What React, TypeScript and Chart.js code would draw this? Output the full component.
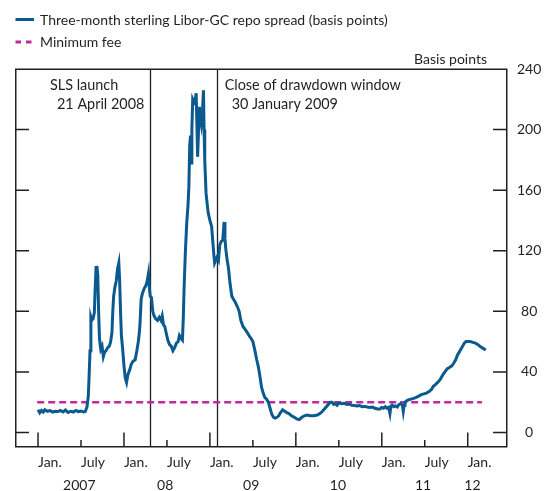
import React, { useEffect, useRef } from 'react';
import { Chart, registerables } from 'chart.js';

Chart.register(...registerables);

// ---- Data (decimal years / basis points) ----
const spreadDates = [
  2007.0, 2007.02, 2007.04, 2007.06, 2007.08, 2007.11, 2007.14, 2007.17, 2007.2, 2007.23,
  2007.26, 2007.29, 2007.32, 2007.35, 2007.38, 2007.41, 2007.44, 2007.47, 2007.5, 2007.53,
  2007.55, 2007.57, 2007.585, 2007.595, 2007.605, 2007.615, 2007.625, 2007.64, 2007.655, 2007.665,
  2007.675, 2007.685, 2007.695, 2007.705, 2007.715, 2007.73, 2007.745, 2007.76, 2007.775, 2007.79,
  2007.81, 2007.83, 2007.845, 2007.86, 2007.87, 2007.88, 2007.895, 2007.91, 2007.925, 2007.94,
  2007.95, 2007.96, 2007.97, 2007.985, 2008.0, 2008.015, 2008.03, 2008.045, 2008.065, 2008.085,
  2008.105, 2008.13, 2008.15, 2008.17, 2008.185, 2008.2, 2008.215, 2008.235, 2008.255, 2008.27,
  2008.285, 2008.295, 2008.305, 2008.32, 2008.335, 2008.35, 2008.37, 2008.39, 2008.41, 2008.43,
  2008.445, 2008.46, 2008.475, 2008.49, 2008.51, 2008.53, 2008.55, 2008.57, 2008.59, 2008.61,
  2008.63, 2008.645, 2008.665, 2008.68, 2008.69, 2008.7, 2008.715, 2008.73, 2008.745, 2008.755,
  2008.765, 2008.775, 2008.78, 2008.79, 2008.8, 2008.815, 2008.83, 2008.84, 2008.85, 2008.857,
  2008.868, 2008.878, 2008.89, 2008.9, 2008.915, 2008.925, 2008.932, 2008.94, 2008.955, 2008.97,
  2008.98, 2009.0, 2009.02, 2009.035, 2009.045, 2009.055, 2009.07, 2009.085, 2009.1, 2009.115,
  2009.13, 2009.15, 2009.165, 2009.175, 2009.185, 2009.2, 2009.215, 2009.235, 2009.255, 2009.275,
  2009.295, 2009.32, 2009.34, 2009.36, 2009.385, 2009.41, 2009.435, 2009.455, 2009.48, 2009.5,
  2009.52, 2009.545, 2009.565, 2009.585, 2009.6, 2009.62, 2009.64, 2009.66, 2009.68, 2009.7,
  2009.72, 2009.74, 2009.76, 2009.78, 2009.8, 2009.82, 2009.845, 2009.87, 2009.895, 2009.92,
  2009.95, 2009.98, 2010.01, 2010.04, 2010.07, 2010.1, 2010.13, 2010.17, 2010.21, 2010.25,
  2010.28, 2010.31, 2010.34, 2010.37, 2010.4, 2010.42, 2010.44, 2010.46, 2010.48, 2010.5,
  2010.53, 2010.56, 2010.59, 2010.62, 2010.65, 2010.68, 2010.71, 2010.74, 2010.77, 2010.8,
  2010.83, 2010.86, 2010.89, 2010.92, 2010.95, 2010.98, 2011.0, 2011.02, 2011.04, 2011.06,
  2011.08, 2011.095, 2011.105, 2011.12, 2011.14, 2011.16, 2011.18, 2011.2, 2011.22, 2011.24,
  2011.25, 2011.26, 2011.27, 2011.29, 2011.31, 2011.34, 2011.37, 2011.4, 2011.43, 2011.46,
  2011.49, 2011.52, 2011.55, 2011.58, 2011.6, 2011.62, 2011.65, 2011.68, 2011.71, 2011.735,
  2011.76, 2011.79, 2011.815, 2011.84, 2011.86, 2011.88, 2011.9, 2011.92, 2011.94, 2011.96,
  2011.98, 2012.0, 2012.03, 2012.06, 2012.09, 2012.12, 2012.15, 2012.18, 2012.21,
];
const spreadBps = [
  15, 13, 14.5, 13.5, 15, 14, 14.5, 13.5, 14, 13.8,
  14.5, 13.5, 14.8, 13.2, 14, 13.5, 14.5, 13.8, 14.2, 13.5,
  13.8, 17, 24, 38, 54, 76, 74, 75, 79, 95,
  109, 110, 104, 80, 62, 55, 57, 50, 53, 54,
  56, 57, 60, 66, 80, 90, 96, 100, 108, 112,
  100, 80, 64, 55, 44, 36, 33, 38, 41, 45,
  47, 48, 54, 61, 70, 88, 92, 95, 97, 100,
  105, 96, 90, 89, 80, 77, 75, 74, 76, 74,
  77, 71, 70, 66, 61, 58, 57, 54, 56, 59,
  60, 64, 62, 61, 75, 96, 120, 138, 150, 162,
  190, 196, 178, 200, 220, 218, 220, 224, 200, 182,
  200, 215, 208, 204, 214, 226, 200, 180, 158, 150,
  145, 140, 136, 125, 118, 112, 114, 116, 114, 124,
  126, 127, 139, 128, 121, 114, 109, 98, 90, 88,
  86, 83, 80, 74, 70, 68, 66, 64, 62, 60,
  55, 48, 43, 36, 30, 26, 23, 22, 20, 16,
  12, 10, 9.5, 10, 11, 13, 15, 14, 13, 12.5,
  11, 10, 9, 8.5, 10, 11, 11.5, 11, 11, 11.5,
  12.5, 14, 16, 18, 20, 20, 18.5, 19, 18, 19.5,
  19, 19.3, 18.5, 18.8, 18, 17.8, 17.5, 17.8, 17, 17.2,
  16.8, 16.5, 16.8, 16, 15.5, 15.5, 16.5, 16, 17, 16,
  16.5, 12.5, 17, 18, 17, 17.5, 16.8, 18.5, 19, 18,
  14, 18, 20, 21, 21.5, 22, 22.5, 23.2, 24, 25,
  25.5, 26, 27, 28.5, 30.5, 31.5, 33, 35, 38, 40,
  42, 43, 44, 46, 48, 51, 53, 55, 57, 59,
  60, 60, 60, 59.5, 59, 58, 56.5, 55.5, 54.5,
];
const feeDates = [2006.99, 2012.165];
const feeBps = [20, 20];

const seriesNames = ['Three-month sterling Libor-GC repo spread (basis points)', 'Minimum fee'];

const monthTicks = [2007, 2007.5, 2008, 2008.5, 2009, 2009.5, 2010, 2010.5, 2011, 2011.5, 2012];
const monthLabels = ['Jan.', 'July', 'Jan.', 'July', 'Jan.', 'July', 'Jan.', 'July', 'Jan.', 'July', 'Jan.'];
const yearPositions = [2007.48, 2008.48, 2009.48, 2010.49, 2011.48, 2012.055];
const yearLabels = ['2007', '08', '09', '10', '11', '12'];
const yTicks = [0, 40, 80, 120, 160, 200, 240];
const yUnit = 'Basis points';

const eventDates = [2008.303, 2009.079];
const eventLabels = [
  ['SLS launch', '21 April 2008'],
  ['Close of drawdown window', '30 January 2009'],
];

const X_MIN = 2006.732;
const X_MAX = 2012.457;
const Y_MIN = -9.6;
const Y_MAX = 240;

const BLUE = '#0a5a8f';
const MAGENTA = '#c0289c';
const INK = '#231f20';
const FONT = 'Lato, "Noto Sans", sans-serif';

const decorPlugin = {
  id: 'decor',
  beforeDatasetsDraw(chart: any) {
    const { ctx, chartArea } = chart;
    const xs = chart.scales.x;
    ctx.save();
    ctx.strokeStyle = INK;
    ctx.lineWidth = 1.3;
    eventDates.forEach((d) => {
      const px = Math.round(xs.getPixelForValue(d)) + 0.5;
      ctx.beginPath();
      ctx.moveTo(px, chartArea.top);
      ctx.lineTo(px, chartArea.bottom);
      ctx.stroke();
    });
    ctx.restore();
  },
  afterDatasetsDraw(chart: any) {
    const { ctx, chartArea } = chart;
    const { left, right, top, bottom } = chartArea;
    const xs = chart.scales.x;
    const ys = chart.scales.y;
    ctx.save();
    ctx.strokeStyle = INK;
    ctx.lineWidth = 1.5;
    ctx.strokeRect(left + 0.75, top + 0.25, right - left - 1, bottom - top - 0.5);
    // inner y ticks both sides
    ys.ticks.forEach((t: any) => {
      if (t.value >= Y_MAX) return;
      const py = ys.getPixelForValue(t.value);
      ctx.beginPath();
      ctx.moveTo(left, py);
      ctx.lineTo(left + 14, py);
      ctx.moveTo(right, py);
      ctx.lineTo(right - 14, py);
      ctx.stroke();
    });
    // inner x ticks
    xs.ticks.forEach((t: any) => {
      const px = xs.getPixelForValue(t.value);
      const isJan = Math.abs(t.value - Math.round(t.value)) < 0.01;
      ctx.beginPath();
      ctx.moveTo(px, bottom);
      ctx.lineTo(px, bottom - (isJan ? 14.5 : 7));
      ctx.stroke();
    });
    ctx.restore();
  },
  afterDraw(chart: any) {
    const { ctx } = chart;
    const xs = chart.scales.x;
    ctx.save();
    ctx.fillStyle = INK;
    ctx.textAlign = 'left';
    ctx.textBaseline = 'alphabetic';
    // event annotations
    ctx.font = `14.4px ${FONT}`;
    const offsets = [[-100, -93], [8, 15]];
    eventDates.forEach((d, i) => {
      const px = xs.getPixelForValue(d);
      ctx.fillText(eventLabels[i][0], px + offsets[i][0], 90);
      ctx.fillText(eventLabels[i][1], px + offsets[i][1], 109);
    });
    // unit label
    ctx.font = `14px ${FONT}`;
    ctx.textAlign = 'right';
    ctx.fillText(yUnit, 487, 63.5);
    // legend
    const ds = chart.data.datasets;
    ctx.textAlign = 'left';
    ctx.lineWidth = 3;
    ctx.strokeStyle = ds[0].borderColor;
    ctx.beginPath();
    ctx.moveTo(15.5, 19.5);
    ctx.lineTo(34, 19.5);
    ctx.stroke();
    ctx.fillText(ds[0].label, 40, 24.5);
    ctx.strokeStyle = ds[1].borderColor;
    ctx.setLineDash([5.5, 5]);
    ctx.beginPath();
    ctx.moveTo(15.5, 42);
    ctx.lineTo(32, 42);
    ctx.stroke();
    ctx.setLineDash([]);
    ctx.fillText(ds[1].label, 40, 47);
    ctx.restore();
  },
};

export default function App() {
  const canvasRef = useRef<HTMLCanvasElement | null>(null);

  useEffect(() => {
    const canvas = canvasRef.current;
    if (!canvas) return;
    const tickFont = { family: FONT, size: 14 };
    const chart = new Chart(canvas, {
      type: 'line',
      data: {
        datasets: [
          {
            label: seriesNames[0],
            data: spreadDates.map((d, i) => ({ x: d, y: spreadBps[i] })),
            borderColor: BLUE,
            borderWidth: 3,
            pointRadius: 0,
            tension: 0,
            xAxisID: 'x',
            yAxisID: 'y',
          },
          {
            label: seriesNames[1],
            data: feeDates.map((d, i) => ({ x: d, y: feeBps[i] })),
            borderColor: MAGENTA,
            borderWidth: 2.5,
            borderDash: [7, 4],
            pointRadius: 0,
            tension: 0,
            xAxisID: 'x',
            yAxisID: 'y',
          },
        ],
      },
      options: {
        responsive: false,
        maintainAspectRatio: false,
        animation: false,
        devicePixelRatio: 1,
        layout: { padding: { left: 15, top: 69, right: 0, bottom: 0 } },
        plugins: { legend: { display: false }, tooltip: { enabled: false } },
        scales: {
          x: {
            type: 'linear',
            position: 'bottom',
            weight: 0,
            min: X_MIN,
            max: X_MAX,
            afterBuildTicks: (s: any) => {
              s.ticks = monthTicks.map((v) => ({ value: v }));
            },
            afterFit: (s: any) => {
              s.height = 27;
            },
            ticks: {
              callback: (_v: any, i: number) => monthLabels[i],
              align: 'start',
              padding: 7,
              autoSkip: false,
              maxRotation: 0,
              font: tickFont,
              color: INK,
            },
            grid: { display: false, drawTicks: false },
            border: { display: false },
          },
          x2: {
            type: 'linear',
            position: 'bottom',
            weight: 1,
            min: X_MIN,
            max: X_MAX,
            afterBuildTicks: (s: any) => {
              s.ticks = yearPositions.map((v) => ({ value: v }));
            },
            afterFit: (s: any) => {
              s.height = 17;
            },
            ticks: {
              callback: (_v: any, i: number) => yearLabels[i],
              padding: 3,
              autoSkip: false,
              maxRotation: 0,
              font: tickFont,
              color: INK,
            },
            grid: { display: false, drawTicks: false },
            border: { display: false },
          },
          y: {
            type: 'linear',
            position: 'right',
            min: Y_MIN,
            max: Y_MAX,
            afterBuildTicks: (s: any) => {
              s.ticks = yTicks.map((v) => ({ value: v }));
            },
            afterFit: (s: any) => {
              s.width = 37;
            },
            ticks: {
              padding: 10,
              crossAlign: 'center',
              font: tickFont,
              color: INK,
            },
            grid: { display: false, drawTicks: false },
            border: { display: false },
          },
        },
      },
      plugins: [decorPlugin],
    } as any);
    return () => chart.destroy();
  }, []);

  return (
    <div style={{ position: 'absolute', left: 0, top: 0, width: 544, height: 491, background: '#fff' }}>
      <canvas ref={canvasRef} width={544} height={491} style={{ display: 'block' }} />
    </div>
  );
}
